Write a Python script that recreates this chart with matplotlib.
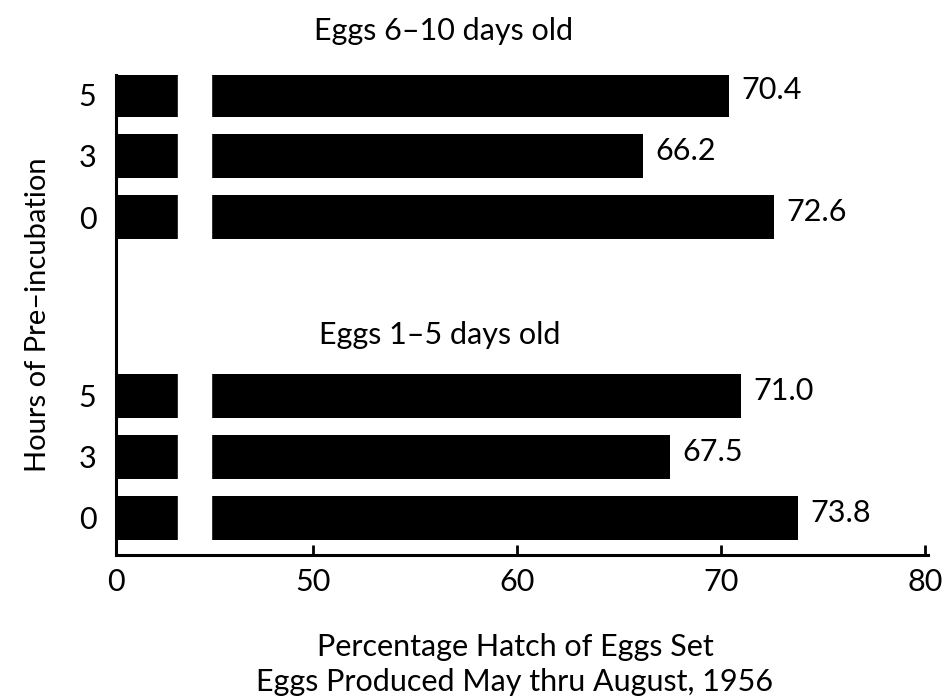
import matplotlib
matplotlib.use("Agg")
import matplotlib.pyplot as plt

# hours of pre-incubation, listed bottom to top inside each group
hours = ["0", "3", "5"]
old_eggs = [72.6, 66.2, 70.4]     # eggs 6-10 days old
young_eggs = [73.8, 67.5, 71.0]   # eggs 1-5 days old
x_ticks = [50, 60, 70, 80]

plt.rcParams['font.family'] = ['Lato', 'DejaVu Sans']

# the axis is broken: "0" sits where 40.35 would be, bars are cut between
x0 = 40.35
gap_lo, gap_hi = 43.4, 45.0

fig = plt.figure(figsize=(9.43, 6.99), dpi=100)
ax = fig.add_axes([0.123, 0.206, 0.861, 0.687])

pos_young = [0, 1, 2]
pos_old = [p + 4.93 for p in pos_young]

for pos, vals in [(pos_young, young_eggs), (pos_old, old_eggs)]:
    ax.barh(pos, [v - x0 for v in vals], left=x0, height=0.73,
            color='black', zorder=2)
    for p, v in zip(pos, vals):
        ax.text(v + 0.6, p + 0.08, f"{v:.1f}", va='center', ha='left',
                fontsize=22, color='black')

# white cut through the bars
ax.axvspan(gap_lo, gap_hi, color='white', zorder=2.2)

ax.set_xlim(x0, 80.15)
ax.set_ylim(-0.607, 7.26)

ax.set_xticks([x0] + x_ticks)
ax.set_xticklabels(["0"] + [str(t) for t in x_ticks], fontsize=22)
ax.tick_params(axis='x', direction='in', length=7, width=2, pad=9)
ax.set_yticks(pos_young + pos_old)
ax.set_yticklabels(hours + hours, fontsize=22)
ax.tick_params(axis='y', length=0, pad=14)

for s in ['top', 'right']:
    ax.spines[s].set_visible(False)
for s in ['left', 'bottom']:
    ax.spines[s].set_linewidth(2.2)

ax.set_ylabel("Hours of Pre\u2013incubation", fontsize=21, labelpad=20)

ax.text(56.4, 7.98, "Eggs 6\u201310 days old", ha='center', va='center',
        fontsize=22)
ax.text(56.2, 3.0, "Eggs 1\u20135 days old", ha='center', va='center',
        fontsize=22)

fig.text(0.546, 0.074, "Percentage Hatch of Eggs Set", ha='center',
         va='center', fontsize=22)
fig.text(0.546, 0.024, "Eggs Produced May thru August, 1956", ha='center',
         va='center', fontsize=22)

fig.savefig("out.png", dpi=100)
